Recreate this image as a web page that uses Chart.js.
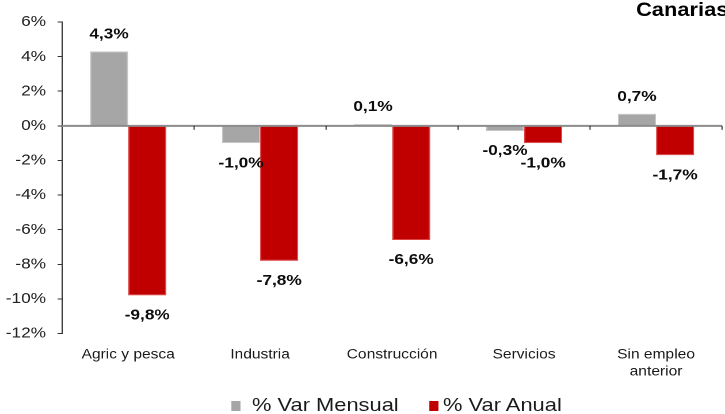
<!DOCTYPE html>
<html><head><meta charset="utf-8">
<script src="https://cdn.jsdelivr.net/npm/chart.js@4"></script>
<style>
html,body{margin:0;padding:0;background:#fff;overflow:hidden;width:725px;height:414px;}
#wrap{position:absolute;left:0;top:0;width:630px;height:414px;transform:scaleX(1.15079);transform-origin:0 0;}
#c{position:absolute;left:0;top:0;width:630px;height:414px;}
#legend{position:absolute;left:0;top:395px;width:630px;height:20px;font:19px "Liberation Sans",Arial,sans-serif;color:#1a1a1a;}
.item{position:absolute;top:0;white-space:nowrap;line-height:20px;}
.box{position:absolute;top:6px;width:8.7px;height:10px;}
</style></head>
<body>
<div id="wrap"><canvas id="c" width="630" height="414"></canvas><div id="legend"></div></div>
<script>
const categories = ['Agric y pesca', 'Industria', 'Construcción', 'Servicios', ['Sin empleo', 'anterior']];
const mensual = [4.3, -1.0, 0.1, -0.3, 0.7];
const anual = [-9.8, -7.8, -6.6, -1.0, -1.7];
const seriesNames = ['% Var Mensual', '% Var Anual'];
const seriesColors = ['#a6a6a6', '#c00000'];
const yMin = -12, yMax = 6, yStep = 2;
const chartTitle = 'Canarias';

const FONT = '"Liberation Sans", Arial, sans-serif';
const fmt = v => v.toFixed(1).replace('.', ',') + '%';

const extras = {
  id: 'extras',
  afterDatasetsDraw(chart) {
    const ctx = chart.ctx, x = chart.scales.x, y = chart.scales.y, ca = chart.chartArea;
    const y0 = y.getPixelForValue(0);
    ctx.save();
    ctx.strokeStyle = '#8c8c8c'; ctx.lineWidth = 2;
    ctx.beginPath(); ctx.moveTo(ca.left, y0); ctx.lineTo(ca.right, y0); ctx.stroke();
    ctx.strokeStyle = '#333'; ctx.lineWidth = 1;
    const half = (x.getPixelForValue(1) - x.getPixelForValue(0)) / 2;
    for (let i = 0; i < categories.length; i++) {
      const bx = x.getPixelForValue(i) + half;
      ctx.beginPath(); ctx.moveTo(bx, y0); ctx.lineTo(bx, y0 + 4); ctx.stroke();
    }
    ctx.fillStyle = '#0d0d0d';
    ctx.font = 'bold 15px ' + FONT;
    ctx.textAlign = 'center'; ctx.textBaseline = 'middle';
    chart.data.datasets.forEach((ds, di) => {
      chart.getDatasetMeta(di).data.forEach((bar, i) => {
        const v = ds.data[i];
        const ty = v >= 0 ? bar.y - 17 : bar.y + 20;
        ctx.fillText(fmt(v), bar.x, ty);
      });
    });
    ctx.font = 'bold 19px ' + FONT;
    ctx.textAlign = 'left'; ctx.textBaseline = 'alphabetic';
    ctx.fillStyle = '#000';
    ctx.fillText(chartTitle, 552.7, 16);
    ctx.restore();
  }
};

new Chart(document.getElementById('c'), {
  type: 'bar',
  data: {
    labels: categories,
    datasets: [
      { label: seriesNames[0], data: mensual, backgroundColor: seriesColors[0], borderColor: '#c4c4c4', borderWidth: 1 },
      { label: seriesNames[1], data: anual, backgroundColor: seriesColors[1], borderColor: '#d44', borderWidth: 1 }
    ]
  },
  options: {
    responsive: false,
    devicePixelRatio: 2,
    animation: false,
    layout: { padding: { top: 22, right: 2.6, bottom: 0, left: 0 } },
    datasets: { bar: { categoryPercentage: 0.578, barPercentage: 1 } },
    plugins: { legend: { display: false }, tooltip: { enabled: false }, title: { display: false } },
    scales: {
      x: {
        grid: { display: false, drawTicks: false },
        border: { display: false },
        ticks: { color: '#1a1a1a', font: { family: FONT, size: 13.5, lineHeight: 1.25 }, padding: 13, maxRotation: 0, autoSkip: false },
        afterFit(s) { s.height = 80.5; }
      },
      y: {
        min: yMin, max: yMax,
        grid: { drawOnChartArea: false, drawTicks: true, tickLength: 4, color: '#333' },
        border: { display: true, color: '#333', width: 1 },
        ticks: { stepSize: yStep, color: '#222', font: { family: FONT, size: 15 }, padding: 10, callback: v => v + '%' },
        afterFit(s) { s.width = 54; }
      }
    }
  },
  plugins: [extras]
});

const lg = document.getElementById('legend');
const pos = [[200.7, 219], [372.8, 385]];
seriesNames.forEach((n, i) => {
  const b = document.createElement('div'); b.className = 'box';
  b.style.left = pos[i][0] + 'px'; b.style.background = seriesColors[i];
  const t = document.createElement('div'); t.className = 'item';
  t.style.left = pos[i][1] + 'px'; t.textContent = n;
  lg.appendChild(b); lg.appendChild(t);
});
</script>
</body></html>
